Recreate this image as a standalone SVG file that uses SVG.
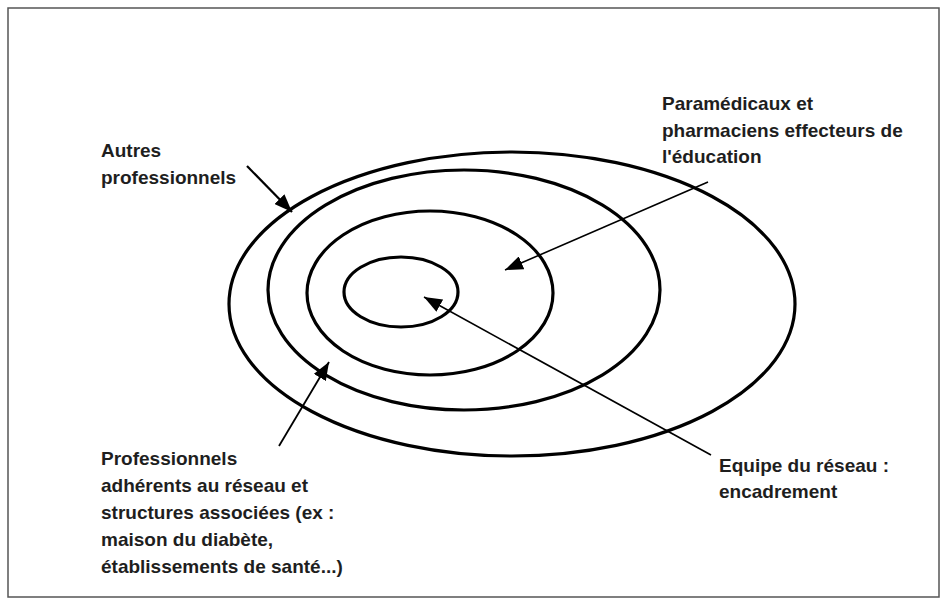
<svg xmlns="http://www.w3.org/2000/svg" width="943" height="602" viewBox="0 0 943 602">
<style>
  .ring { fill: none; stroke: #000; stroke-width: 3.2; }
  .lbl { font-family: "Liberation Sans", Arial, sans-serif; font-weight: bold; font-size: 19px; fill: #1e1e1e; }
</style>
<defs>
  <marker id="ahb" viewBox="0 0 10 10" refX="10" refY="5" markerWidth="18" markerHeight="14" markerUnits="userSpaceOnUse" orient="auto" preserveAspectRatio="none">
    <path d="M0,0 L10,5 L0,10 Z" fill="#000"/>
  </marker>
</defs>
<rect x="0" y="0" width="943" height="602" fill="#fff"/>
<rect x="8" y="8" width="931" height="589" fill="none" stroke="#555" stroke-width="1.5"/>
<g id="ring-outer"><ellipse class="ring" cx="512" cy="304" rx="283" ry="152"/></g>
<g id="ring-2"><ellipse class="ring" cx="464" cy="290" rx="196" ry="120"/></g>
<g id="ring-3"><ellipse class="ring" cx="430" cy="293" rx="123" ry="82"/></g>
<g id="ring-inner"><ellipse class="ring" cx="401" cy="292" rx="57" ry="35"/></g>
<g id="connectors">
  <line x1="247" y1="166" x2="292" y2="212" stroke="#000" stroke-width="2.2" marker-end="url(#ahb)"/>
  <line x1="708" y1="182" x2="505" y2="270" stroke="#000" stroke-width="1.6" marker-end="url(#ahb)"/>
  <line x1="711" y1="455" x2="424" y2="297" stroke="#000" stroke-width="1.6" marker-end="url(#ahb)"/>
  <line x1="279" y1="446" x2="329" y2="362" stroke="#000" stroke-width="1.8" marker-end="url(#ahb)"/>
</g>
<g id="label-autres">
  <text class="lbl" x="101" y="157">Autres</text>
  <text class="lbl" x="101" y="184">professionnels</text>
</g>
<g id="label-paramedicaux">
  <text class="lbl" x="662" y="110">Paramédicaux et</text>
  <text class="lbl" x="662" y="137">pharmaciens effecteurs de</text>
  <text class="lbl" x="662" y="163">l'éducation</text>
</g>
<g id="label-professionnels">
  <text class="lbl" x="101" y="465">Professionnels</text>
  <text class="lbl" x="101" y="492">adhérents au réseau et</text>
  <text class="lbl" x="101" y="519">structures associées (ex :</text>
  <text class="lbl" x="101" y="546">maison du diabète,</text>
  <text class="lbl" x="101" y="573">établissements de santé...)</text>
</g>
<g id="label-equipe">
  <text class="lbl" x="719" y="472">Equipe du réseau :</text>
  <text class="lbl" x="719" y="498">encadrement</text>
</g>
</svg>
